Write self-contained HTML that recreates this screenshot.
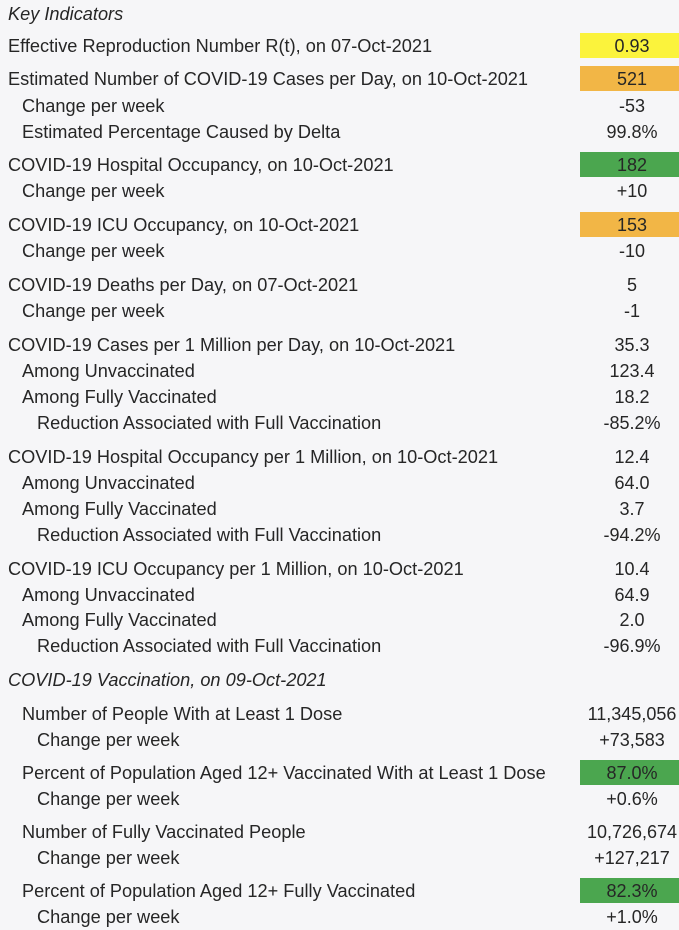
<!DOCTYPE html>
<html><head><meta charset="utf-8"><style>
html,body{margin:0;padding:0}
body{width:679px;height:927px;background:#f6f6f8;position:relative;overflow:hidden;font-family:"Liberation Sans",sans-serif;color:#262626;font-size:18px}
.r{position:absolute;left:0;width:679px;height:26px;line-height:26px}
.l{position:absolute;white-space:nowrap;transform-origin:left center;transform:scaleX(1.01)}
.v{position:absolute;left:580px;width:104px;text-align:center}
.box{position:absolute;left:580px;width:99px;height:25px;top:0}
.y{background:#fbf33c}.o{background:#f2b646}.g{background:#4ba64f}
</style></head><body>
<div id="t"></div>
<script>
const labels=[
["Key Indicators",0,14,"i"],
["Effective Reproduction Number R(t), on 07-Oct-2021",0,46],
["Estimated Number of COVID-19 Cases per Day, on 10-Oct-2021",0,79],
["Change per week",1,106],
["Estimated Percentage Caused by Delta",1,132],
["COVID-19 Hospital Occupancy, on 10-Oct-2021",0,165],
["Change per week",1,191],
["COVID-19 ICU Occupancy, on 10-Oct-2021",0,225],
["Change per week",1,251],
["COVID-19 Deaths per Day, on 07-Oct-2021",0,285],
["Change per week",1,311],
["COVID-19 Cases per 1 Million per Day, on 10-Oct-2021",0,345],
["Among Unvaccinated",1,371],
["Among Fully Vaccinated",1,397],
["Reduction Associated with Full Vaccination",2,423],
["COVID-19 Hospital Occupancy per 1 Million, on 10-Oct-2021",0,457],
["Among Unvaccinated",1,483],
["Among Fully Vaccinated",1,509],
["Reduction Associated with Full Vaccination",2,535],
["COVID-19 ICU Occupancy per 1 Million, on 10-Oct-2021",0,569],
["Among Unvaccinated",1,595],
["Among Fully Vaccinated",1,620],
["Reduction Associated with Full Vaccination",2,646],
["COVID-19 Vaccination, on 09-Oct-2021",0,680,"i"],
["Number of People With at Least 1 Dose",1,714],
["Change per week",2,740],
["Percent of Population Aged 12+ Vaccinated With at Least 1 Dose",1,773],
["Change per week",2,799],
["Number of Fully Vaccinated People",1,832],
["Change per week",2,858],
["Percent of Population Aged 12+ Fully Vaccinated",1,891],
["Change per week",2,917]];
const values=["","0.93","521","-53","99.8%","182","+10","153","-10","5","-1","35.3","123.4","18.2","-85.2%","12.4","64.0","3.7","-94.2%","10.4","64.9","2.0","-96.9%","","11,345,056","+73,583","87.0%","+0.6%","10,726,674","+127,217","82.3%","+1.0%"];
const colors=["","y","o","","","g","","o","","","","","","","","","","","","","","","","","","","g","","","","g",""];
const t=document.getElementById('t');
const indent=[8,22,37];
labels.forEach((L,i)=>{
 const row=document.createElement('div');row.className='r';row.style.top=(L[2]-13)+'px';
 
 
 if(colors[i]){const b=document.createElement('div');b.className='box '+colors[i];
  
  
  row.appendChild(b);}
 const l=document.createElement('div');l.className='l';l.style.left=indent[L[1]]+'px';
 if(L[3])l.style.fontStyle='italic';l.textContent=L[0];
 
 
 row.appendChild(l);
 if(values[i]){const v=document.createElement('div');v.className='v';v.textContent=values[i];
  
  
  row.appendChild(v);}
 t.appendChild(row);
});
</script>
</body></html>
